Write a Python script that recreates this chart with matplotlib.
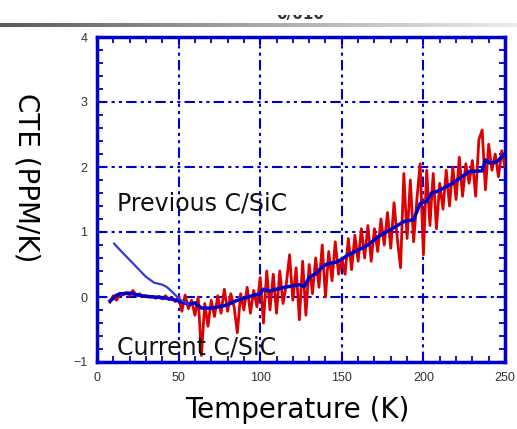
import numpy as np
import matplotlib
matplotlib.use("Agg")
import matplotlib.pyplot as plt
from matplotlib.ticker import MultipleLocator
from matplotlib.patches import Rectangle
from matplotlib.colors import LinearSegmentedColormap

# ---------------- data ----------------
# Current C/SiC measured CTE (noisy red trace)
cur_temp = [8, 10, 12, 14, 16, 18, 20, 22, 24, 26, 28, 30, 32, 34, 36, 38, 40, 42, 44, 46,
            48, 50, 52, 54, 56, 58, 60, 62, 64, 66, 68, 70, 72, 74, 76, 78, 80, 82, 84, 86,
            88, 90, 92, 94, 96, 98, 100, 102, 104, 106, 108, 110, 112, 114, 116, 118, 120,
            122, 124, 126, 128, 130, 132, 134, 136, 138, 140, 142, 144, 146, 148, 150, 152,
            154, 156, 158, 160, 162, 164, 166, 168, 170, 172, 174, 176, 178, 180, 182, 184,
            186, 188, 190, 192, 194, 196, 198, 200, 202, 204, 206, 208, 210, 212, 214, 216,
            218, 220, 222, 224, 226, 228, 230, 232, 234, 236, 238, 240, 242, 244, 246, 248, 250]
cur_cte = [-0.08, 0.02, -0.05, 0.06, 0.03, 0.07, 0.02, 0.10, 0.03, 0.05, 0.01, 0.02, 0.00, 0.01,
           -0.02, 0.01, -0.03, 0.02, -0.04, -0.01, -0.07, 0.00, -0.22, 0.03, -0.18, -0.05, -0.28,
           0.00, -0.90, -0.10, -0.45, -0.05, -0.30, 0.02, -0.25, 0.12, -0.22, 0.05, -0.15, -0.55,
           0.05, -0.20, 0.15, -0.25, 0.10, -0.15, 0.30, -0.40, 0.40, -0.20, 0.35, -0.25, 0.40,
           -0.10, 0.20, 0.65, -0.05, 0.45, -0.35, 0.55, -0.28, 0.50, 0.05, 0.60, 0.15, 0.80, 0.00,
           0.70, 0.25, 0.85, 0.35, 0.60, 0.35, 0.90, 0.42, 0.95, 0.55, 1.05, 0.60, 1.10, 0.55,
           1.05, 0.70, 1.20, 0.80, 1.30, 0.75, 1.45, 0.90, 0.45, 1.90, 0.90, 1.80, 0.85, 1.50,
           2.05, 0.65, 1.95, 1.10, 1.90, 1.05, 1.75, 1.35, 1.95, 1.40, 2.00, 1.50, 2.15, 1.55,
           2.05, 1.75, 2.10, 1.55, 2.42, 2.57, 1.65, 2.35, 1.95, 2.20, 1.85, 2.25, 2.00]

# Smoothed fit of current C/SiC (thick blue)
fit_temp = [8, 10, 12, 15, 20, 25, 30, 35, 40, 45, 50, 55, 57, 60, 64, 70, 75, 80, 85, 90, 95,
            100, 102, 106, 110, 115, 120, 124, 127, 130, 134, 138, 141, 147, 150, 154, 160, 166,
            173, 180, 188, 194, 198, 202, 205, 208, 218, 228, 236, 238, 241, 245, 250]
fit_cte = [-0.06, -0.02, 0.03, 0.05, 0.06, 0.03, 0.01, 0.00, -0.01, -0.03, -0.06, -0.10, -0.11,
           -0.09, -0.17, -0.17, -0.15, -0.12, -0.06, -0.02, 0.02, 0.05, 0.12, 0.09, 0.12, 0.15,
           0.17, 0.19, 0.16, 0.30, 0.36, 0.46, 0.51, 0.54, 0.58, 0.65, 0.72, 0.80, 0.94, 1.04,
           1.16, 1.19, 1.44, 1.47, 1.60, 1.62, 1.75, 1.93, 1.94, 2.11, 2.06, 2.08, 2.21]

# Previous C/SiC (thin blue)
prev_temp = [10.5, 15, 20, 25, 30, 35, 40, 43, 46, 50, 53, 56]
prev_cte = [0.82, 0.70, 0.57, 0.44, 0.31, 0.22, 0.19, 0.15, 0.08, -0.02, -0.07, -0.11]

x_ticks = [0, 50, 100, 150, 200, 250]
y_ticks = [-1, 0, 1, 2, 3, 4]

# ---------------- figure ----------------
W, H, DPI = 517, 429, 100
fig = plt.figure(figsize=(W / DPI, H / DPI), dpi=DPI)
fig.patch.set_facecolor("white")

# gray gradient header bar
bar = fig.add_axes([0, (H - 27.5) / H, 1, 4.8 / H])
grad = np.linspace(0, 1, 256).reshape(1, -1)
gcmap = LinearSegmentedColormap.from_list("g", ["#5a5a5a", "#a8a8a8", "#ececec"])
bar.imshow(grad, aspect="auto", cmap=gcmap, extent=[0, 1, 0, 1])
bar.set_axis_off()

# partially hidden header text (only its bottom shows)
fig.text(300 / W, (H - 19) / H, "0/010", ha="center", va="baseline",
         fontsize=11, fontweight="bold", color="#333333", zorder=1)
fig.add_artist(Rectangle((0, (H - 15) / H), 1, 15 / H, transform=fig.transFigure,
                         facecolor="white", edgecolor="none", zorder=20))

ax = fig.add_axes([97 / W, (H - 362) / H, (505 - 97) / W, (362 - 37) / H])

blue = "#0000cc"
ax.plot(cur_temp, cur_cte, color="#dd0000", lw=2.0, zorder=3)
ax.plot(fit_temp, fit_cte, color=blue, lw=2.5, zorder=4)
ax.plot(prev_temp, prev_cte, color="#3838d8", lw=1.6, zorder=5)

ax.set_xlim(0, 250)
ax.set_ylim(-1, 4)
ax.set_xticks(x_ticks)
ax.set_yticks(y_ticks)
ax.xaxis.set_minor_locator(MultipleLocator(10))
ax.yaxis.set_minor_locator(MultipleLocator(0.2))

gridstyle = (0, (5, 2, 1.5, 2, 1.5, 2))
ax.grid(True, which="major", color=blue, lw=1.5, linestyle=gridstyle, zorder=1)

for s in ax.spines.values():
    s.set_color(blue)
    s.set_linewidth(2.5)

ax.tick_params(which="both", direction="in", top=True, right=True, color=blue)
ax.tick_params(which="major", length=6, width=1.5, labelsize=9, labelcolor="#333333", pad=7)
ax.tick_params(which="minor", length=4, width=1.3)
for lab in ax.get_xticklabels() + ax.get_yticklabels():
    lab.set_family("Liberation Sans")

ax.set_xlabel("Temperature (K)", fontsize=20, color="black", va="center")
ax.xaxis.set_label_coords(0.49, -0.148)
ax.set_ylabel("CTE (PPM/K)", fontsize=20, color="black", rotation=270, va="center")
ax.yaxis.set_label_coords(-0.172, 0.566)

ax.text(12, 1.33, "Previous C/SiC", fontsize=17, color="#111111", va="baseline", zorder=6)
ax.text(12, -0.89, "Current C/SiC", fontsize=17, color="#111111", va="baseline", zorder=6)

fig.savefig("out.png", dpi=DPI, facecolor="white")
